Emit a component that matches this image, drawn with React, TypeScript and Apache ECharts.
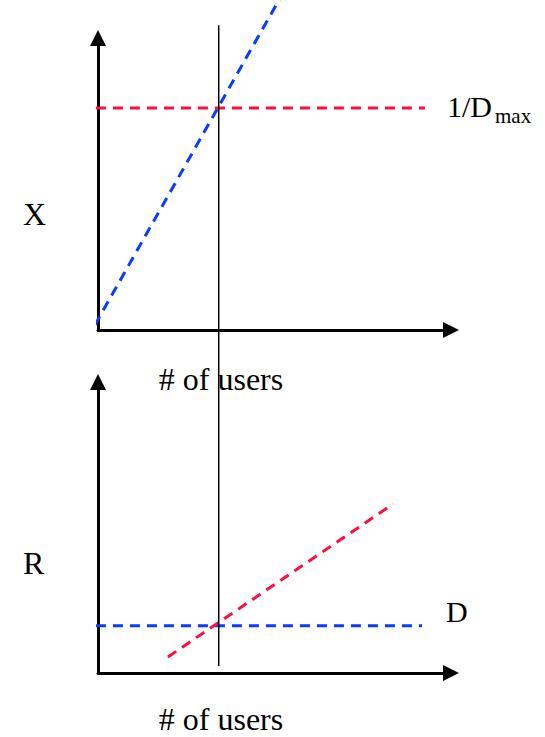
import React, { useEffect, useRef } from "react";
import * as echarts from "echarts";

// ---- data (users on x, metric on y; both axes 0..100 schematic units) ----
const throughputLine = [[-0.9, 1.7], [51.5, 113.5]]; // X vs # of users (blue)
const throughputBound = [[-5.4, 76], [92.6, 76]]; // 1/Dmax (red)
const demandLine = [[-5.4, 16.2], [91.8, 16.2]]; // D (blue)
const responseLine = [[19.8, 5.5], [83.6, 58.1]]; // R vs # of users (red)
const kneeLine = [[34.2, 2.4], [34.2, 225.4]]; // N* vertical marker
const labelsTop = { y: "X", x: "# of users", bound: "1/D", boundSub: "max" };
const labelsBottom = { y: "R", x: "# of users", bound: "D" };

const RED = "#ff0d3d";
const BLUE = "#0a3cff";
const FONT = "Liberation Serif";

export default function App() {
  const ref = useRef<HTMLDivElement>(null);
  useEffect(() => {
    if (!ref.current) return;
    const chart = echarts.init(ref.current, undefined, { renderer: "svg" });
    const axisCommon = {
      type: "value" as const,
      min: 0,
      max: 100,
      axisTick: { show: false },
      axisLabel: { show: false },
      splitLine: { show: false },
      axisLine: {
        show: true,
        onZero: false,
        symbol: ["none", "triangle"],
        symbolSize: [16, 16],
        lineStyle: { color: "#000", width: 3 },
      },
    };
    const dashed = (color: string) => ({
      color,
      width: 3,
      type: [10, 7] as number[],
    });
    const textStyle = (size: number) => ({
      fontFamily: FONT,
      fontSize: size,
      fill: "#000",
    });
    chart.setOption({
      animation: false,
      backgroundColor: "#fff",
      grid: [
        { left: 98, top: 38, width: 353, height: 292 },
        { left: 98, top: 382, width: 353, height: 291 },
      ],
      xAxis: [
        { ...axisCommon, gridIndex: 0 },
        { ...axisCommon, gridIndex: 1 },
      ],
      yAxis: [
        { ...axisCommon, gridIndex: 0 },
        { ...axisCommon, gridIndex: 1 },
      ],
      series: [
        {
          type: "line",
          xAxisIndex: 0,
          yAxisIndex: 0,
          data: throughputLine,
          showSymbol: false,
          clip: false,
          lineStyle: dashed(BLUE),
          z: 3,
        },
        {
          type: "line",
          xAxisIndex: 0,
          yAxisIndex: 0,
          data: throughputBound,
          showSymbol: false,
          clip: false,
          lineStyle: dashed(RED),
          z: 3,
        },
        {
          type: "line",
          xAxisIndex: 1,
          yAxisIndex: 1,
          data: demandLine,
          showSymbol: false,
          clip: false,
          lineStyle: dashed(BLUE),
          z: 3,
        },
        {
          type: "line",
          xAxisIndex: 1,
          yAxisIndex: 1,
          data: responseLine,
          showSymbol: false,
          clip: false,
          lineStyle: dashed(RED),
          z: 3,
        },
        {
          type: "line",
          xAxisIndex: 1,
          yAxisIndex: 1,
          data: kneeLine,
          showSymbol: false,
          clip: false,
          lineStyle: { color: "#000", width: 1.5 },
          z: 4,
        },
      ],
      graphic: [
        { type: "text", left: 23, top: 214 - 16, style: { text: labelsTop.y, ...textStyle(32) } },
        {
          type: "text",
          x: 221,
          y: 379,
          style: { text: labelsTop.x, ...textStyle(32), align: "center", verticalAlign: "middle" },
        },
        {
          type: "text",
          x: 447,
          y: 106,
          style: { text: labelsTop.bound, ...textStyle(30), align: "left", verticalAlign: "middle" },
        },
        {
          type: "text",
          x: 495,
          y: 116,
          style: { text: labelsTop.boundSub, ...textStyle(21), align: "left", verticalAlign: "middle" },
        },
        { type: "text", left: 23, top: 563 - 16, style: { text: labelsBottom.y, ...textStyle(32) } },
        {
          type: "text",
          x: 221,
          y: 719,
          style: { text: labelsBottom.x, ...textStyle(32), align: "center", verticalAlign: "middle" },
        },
        {
          type: "text",
          x: 446,
          y: 611,
          style: { text: labelsBottom.bound, ...textStyle(30), align: "left", verticalAlign: "middle" },
        },
      ],
    });
    return () => chart.dispose();
  }, []);
  return (
    <div
      ref={ref}
      style={{ position: "absolute", left: 0, top: 0, width: 545, height: 737 }}
    />
  );
}
